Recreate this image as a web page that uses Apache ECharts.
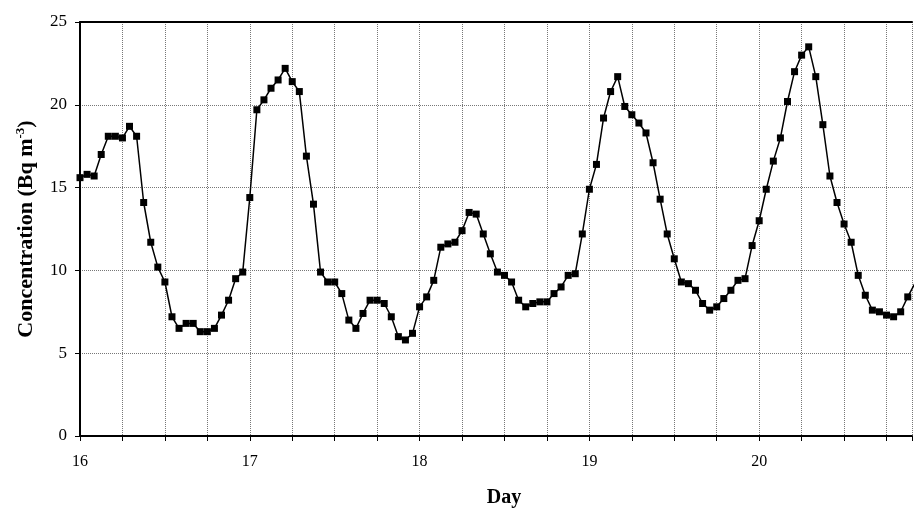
<!DOCTYPE html>
<html>
<head>
<meta charset="utf-8">
<script src="https://cdn.jsdelivr.net/npm/echarts@6/dist/echarts.min.js"></script>
<style>
html,body{margin:0;padding:0;background:#fff;overflow:hidden;}
#chart{width:915px;height:513px;}
</style>
</head>
<body>
<div id="chart"></div>
<script>
// Hourly radon concentration (Bq m^-3), starting at day 16.0
const startDay = 16;
const hoursPerDay = 24;
const concentration = [
  15.6, 15.8, 15.7, 17.0, 18.1, 18.1, 18.0, 18.7, 18.1, 14.1, 11.7, 10.2,
  9.3, 7.2, 6.5, 6.8, 6.8, 6.3, 6.3, 6.5, 7.3, 8.2, 9.5, 9.9,
  14.4, 19.7, 20.3, 21.0, 21.5, 22.2, 21.4, 20.8, 16.9, 14.0, 9.9, 9.3,
  9.3, 8.6, 7.0, 6.5, 7.4, 8.2, 8.2, 8.0, 7.2, 6.0, 5.8, 6.2,
  7.8, 8.4, 9.4, 11.4, 11.6, 11.7, 12.4, 13.5, 13.4, 12.2, 11.0, 9.9,
  9.7, 9.3, 8.2, 7.8, 8.0, 8.1, 8.1, 8.6, 9.0, 9.7, 9.8, 12.2,
  14.9, 16.4, 19.2, 20.8, 21.7, 19.9, 19.4, 18.9, 18.3, 16.5, 14.3, 12.2,
  10.7, 9.3, 9.2, 8.8, 8.0, 7.6, 7.8, 8.3, 8.8, 9.4, 9.5, 11.5,
  13.0, 14.9, 16.6, 18.0, 20.2, 22.0, 23.0, 23.5, 21.7, 18.8, 15.7, 14.1,
  12.8, 11.7, 9.7, 8.5, 7.6, 7.5, 7.3, 7.2, 7.5, 8.4, 9.2
];
const xTickDays = [16, 17, 18, 19, 20];
const yTicks = [0, 5, 10, 15, 20, 25];

const seriesData = concentration.map((v, i) => [startDay + i / hoursPerDay, v]);
const serif = '"Liberation Serif", "DejaVu Serif", serif';
const xMin = 16, xMax = 20.9;

const chart = echarts.init(document.getElementById('chart'));
chart.setOption({
  animation: false,
  backgroundColor: '#fff',
  grid: { left: 80, width: 838, top: 22, bottom: 70.5, show: false },
  xAxis: [{
    type: 'value',
    min: xMin,
    max: xMax,
    interval: 0.25,
    name: 'Day',
    nameLocation: 'middle',
    nameGap: 52,
    nameTextStyle: { fontFamily: serif, fontWeight: 'bold', fontSize: 20, color: '#000', padding: [0, 0, 0, 16] },
    axisLine: { show: true, onZero: false, lineStyle: { color: '#000', width: 2 } },
    axisTick: { show: true, length: 5, lineStyle: { color: '#000', width: 1 } },
    axisLabel: {
      margin: 18,
      fontFamily: serif, fontSize: 16, color: '#000',
      formatter: v => (xTickDays.indexOf(v) >= 0 ? String(v) : '')
    },
    splitLine: { show: true, lineStyle: { type: 'dotted', color: '#777', width: 1 } }
  }, {
    type: 'value',
    position: 'top',
    min: xMin,
    max: xMax,
    axisLine: { show: true, onZero: false, lineStyle: { color: '#000', width: 2 } },
    axisTick: { show: false },
    axisLabel: { show: false },
    splitLine: { show: false }
  }],
  yAxis: {
    type: 'value',
    min: yTicks[0],
    max: yTicks[yTicks.length - 1],
    interval: 5,
    name: '{a|Concentration (Bq m}{s|-3}{a|)}',
    nameLocation: 'middle',
    nameRotate: 90,
    nameGap: 41,
    nameTextStyle: {
      rich: {
        a: { fontFamily: serif, fontWeight: 'bold', fontSize: 22, color: '#000' },
        s: { fontFamily: serif, fontWeight: 'bold', fontSize: 13, color: '#000', verticalAlign: 'top', padding: [0, 0, 12, 0] }
      }
    },
    axisLine: { show: true, lineStyle: { color: '#000', width: 2 } },
    axisTick: { show: true, length: 5, lineStyle: { color: '#000', width: 1 } },
    axisLabel: { margin: 13, fontFamily: serif, fontSize: 17, color: '#000' },
    splitLine: { show: true, lineStyle: { type: 'dotted', color: '#777', width: 1 } }
  },
  series: [{
    type: 'line',
    xAxisIndex: 0,
    data: seriesData,
    symbol: 'rect',
    symbolSize: 7,
    clip: true,
    lineStyle: { color: '#000', width: 1.5 },
    itemStyle: { color: '#000', borderWidth: 0 }
  }]
});
</script>
</body>
</html>
